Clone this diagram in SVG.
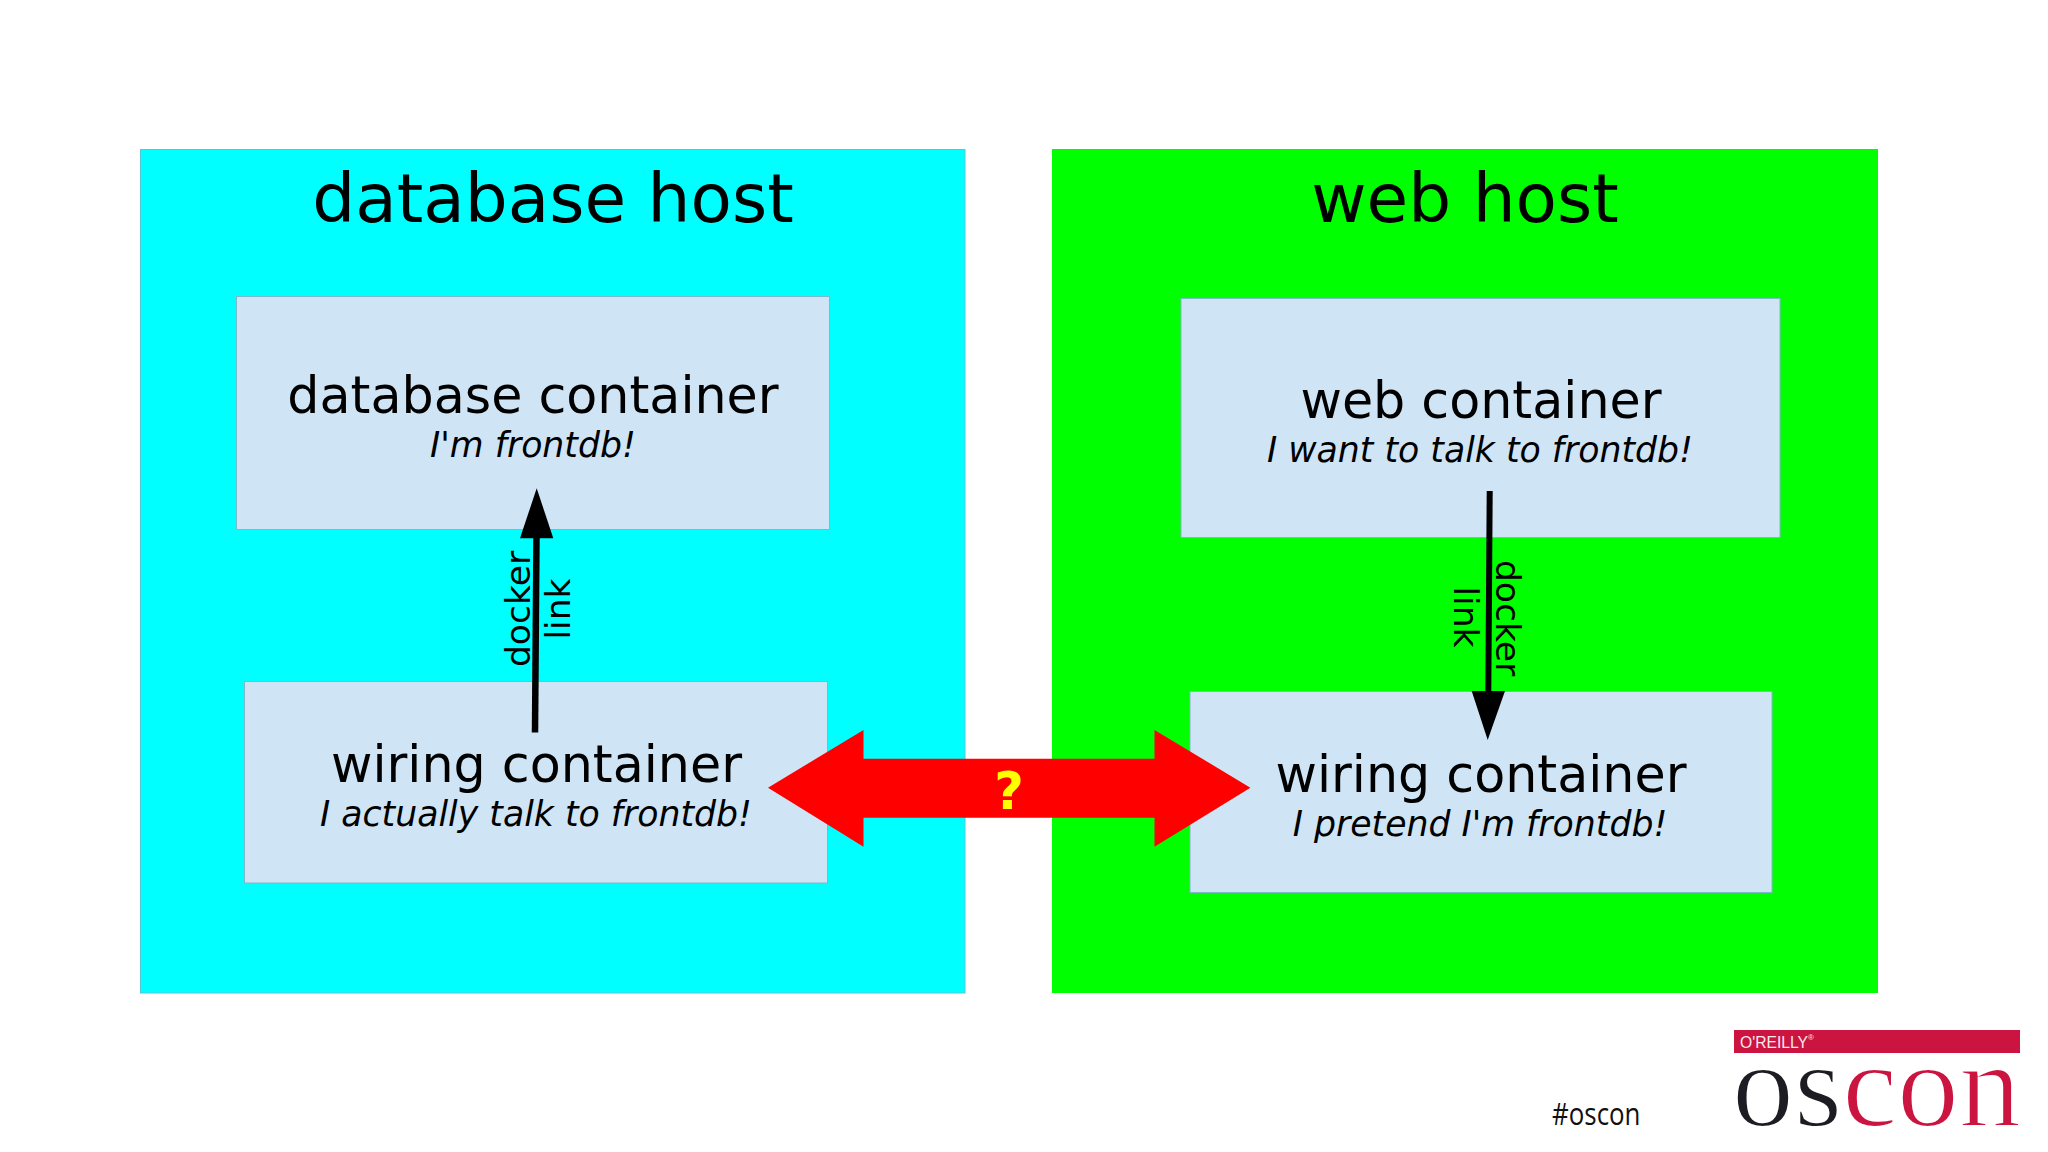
<svg xmlns="http://www.w3.org/2000/svg" width="2048" height="1152" viewBox="0 0 2048 1152">
<style>
text{font-family:"DejaVu Sans",sans-serif;fill:#000;text-anchor:middle}
.host{font-size:67.700px}
.box{fill:#cfe5f5;stroke:#7fb8c8;stroke-width:1}
.name{font-size:50.700px}
.sub{font-size:34.700px;font-style:italic}
.lk{font-size:34.500px}
</style>
<rect width="2048" height="1152" fill="#fff"/>
<g id="database-host"><rect x="140.500" y="149.500" width="824.500" height="843.500" fill="#00ffff" stroke="#55c8d8" stroke-width="1"/><text class="host" x="553" y="222">database host</text></g>
<g id="web-host"><rect x="1052" y="149" width="826" height="844" fill="#00ff00"/><text class="host" x="1465" y="222">web host</text></g>
<g id="database-container"><rect class="box" x="236.500" y="296.500" width="593" height="233"/><text class="name" x="533" y="413">database container</text><text class="sub" x="533" y="457">I'm frontdb!</text></g>
<g id="wiring-container-left"><rect class="box" x="244.500" y="681.500" width="583" height="201.500"/><text class="name" x="536.500" y="782">wiring container</text><text class="sub" x="536" y="826">I actually talk to frontdb!</text></g>
<g id="web-container"><rect class="box" x="1181" y="298.500" width="599" height="239" stroke="none"/><text class="name" x="1481" y="418">web container</text><text class="sub" x="1480" y="462">I want to talk to frontdb!</text></g>
<g id="wiring-container-right"><rect class="box" x="1190" y="691.500" width="582" height="201" stroke="none"/><text class="name" x="1481" y="792">wiring container</text><text class="sub" x="1480" y="836">I pretend I'm frontdb!</text></g>
<g id="connectors">
<path d="M535 732.500 L536.500 536" stroke="#000" stroke-width="6.500" fill="none"/>
<polygon points="536.700,488.300 520,538.300 553.300,538.300" fill="#000"/>
<path d="M1489.700 491 L1488.300 693" stroke="#000" stroke-width="6" fill="none"/>
<polygon points="1471.700,691 1505,691 1487.700,740" fill="#000"/>
<polygon points="768,787.700 863.500,730 863.500,758.700 1154.500,758.700 1154.500,730 1250.400,787.700 1154.500,846.700 1154.500,817.700 863.500,817.700 863.500,846.700" fill="#ff0000"/>
<text x="1009" y="809" font-size="51" font-weight="bold" style="fill:#ffff00">?</text>
<text class="lk" transform="translate(529.500 609) rotate(-90)">docker</text>
<text class="lk" transform="translate(570 609) rotate(-90)">link</text>
<text class="lk" transform="translate(1495.500 618) rotate(90)">docker</text>
<text class="lk" transform="translate(1454 617) rotate(90)">link</text>
</g>
<g id="oscon-logo">
<text x="1552" y="1125" style="font-family:'Open Sans',sans-serif;text-anchor:start;fill:#111" font-size="31" textLength="88.500" lengthAdjust="spacingAndGlyphs">#oscon</text>
<rect x="1734" y="1030" width="286" height="23" fill="#cc1440"/>
<text x="1740" y="1048" style="font-family:'Liberation Sans',sans-serif;text-anchor:start;fill:#fbe8ec" font-size="17" textLength="68" lengthAdjust="spacingAndGlyphs">O'REILLY</text>
<text x="1811" y="1040" style="font-family:'Liberation Sans',sans-serif;fill:#fbe8ec" font-size="8">®</text>
<text x="1732" y="1126" font-size="120" textLength="289" lengthAdjust="spacingAndGlyphs" stroke="#fff" stroke-width="2" style="font-family:'Liberation Serif',serif;text-anchor:start"><tspan style="fill:#1c1c22">os</tspan><tspan style="fill:#cc1440">con</tspan></text>
</g>
</svg>
